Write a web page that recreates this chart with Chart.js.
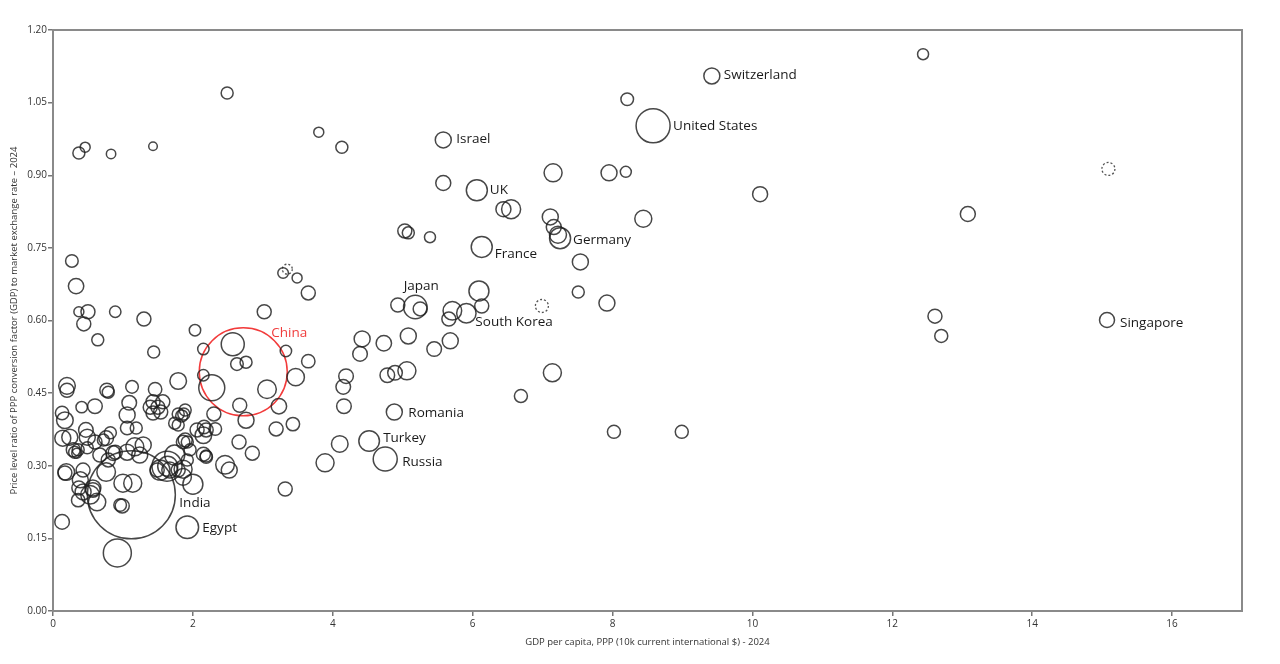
<!DOCTYPE html>
<html>
<head>
<meta charset="utf-8">
<script src="https://cdn.jsdelivr.net/npm/chart.js@4.4.1/dist/chart.umd.min.js"></script>
<style>
  html, body { margin: 0; padding: 0; background: #fff; }
  #wrap { width: 1280px; height: 664px; }
</style>
</head>
<body>
<div id="wrap"><canvas id="chart" width="1280" height="664"></canvas></div>
<script>
// Labelled countries come first in the main series
const names = ["Switzerland", "United States", "Israel", "UK", "France", "Germany", "Japan",
  "South Korea", "Romania", "Turkey", "Russia", "India", "Egypt", "Singapore"];

// GDP per capita, PPP (10k current intl $)
const gdp = [9.42, 8.58, 5.58, 6.06, 6.13, 7.25, 5.18, 5.91, 4.88, 4.52, 4.75, 1.12, 1.92, 15.07,
  12.44, 8.21, 10.11, 13.08, 12.61, 12.70, 8.02, 8.99, 7.14, 6.69, 7.51, 7.92, 7.54, 8.44, 8.19, 7.95,
  7.15, 5.58, 6.44, 6.55, 7.11, 7.16, 7.22, 5.39, 5.03, 5.08, 6.09, 6.13, 5.71, 5.66, 5.25, 4.93,
  5.08, 4.73, 4.42, 4.39, 5.45, 5.68, 4.19, 4.15, 4.16, 4.78, 4.89, 5.06, 4.10, 3.89, 3.32, 3.43,
  3.47, 3.65, 3.33, 3.65, 3.49, 3.29, 3.02, 3.80, 4.13, 2.49, 0.37, 0.46, 0.83, 1.43, 0.27, 0.33,
  0.37, 0.50, 0.44, 0.89, 1.30, 0.64, 1.44, 2.03, 2.15, 2.57, 2.63, 2.76, 2.27, 2.15, 2.67, 2.76,
  3.23, 3.19, 3.06, 2.30, 2.66, 2.85, 2.46, 2.52, 2.00, 0.92, 0.13, 0.99, 2.16, 1.86, 1.79, 2.06,
  2.15, 2.19, 1.89, 1.84, 1.79, 1.63, 1.49, 1.67, 1.79, 1.86, 1.92, 1.96, 1.89, 1.86, 1.43, 1.39,
  1.50, 1.57, 1.43, 1.54, 1.46, 1.13, 1.09, 1.06, 1.06, 1.19, 1.17, 1.29, 1.24, 1.00, 1.14, 0.77,
  0.79, 0.41, 0.60, 0.20, 0.20, 0.13, 0.17, 0.14, 0.24, 0.29, 0.31, 0.36, 0.34, 0.49, 0.49, 0.60,
  0.72, 0.82, 0.89, 0.67, 0.79, 0.76, 0.43, 0.17, 0.39, 0.43, 0.57, 0.37, 0.36, 0.57, 0.63, 0.53,
  0.96, 0.19, 0.47, 1.06, 0.86, 0.76, 2.32, 2.19, 2.15, 2.19, 1.92, 1.74, 1.79, 1.87, 1.74, 1.64, 1.53];

// Price level ratio of PPP conversion factor to market exchange rate
const ratio = [1.105, 1.002, 0.973, 0.869, 0.752, 0.770, 0.628, 0.615, 0.411, 0.351, 0.314, 0.240, 0.173, 0.601,
  1.150, 1.057, 0.861, 0.820, 0.609, 0.568, 0.370, 0.370, 0.492, 0.444, 0.659, 0.636, 0.721, 0.810, 0.907, 0.905,
  0.905, 0.884, 0.830, 0.830, 0.814, 0.793, 0.777, 0.772, 0.785, 0.781, 0.661, 0.630, 0.620, 0.603, 0.624, 0.632,
  0.568, 0.553, 0.562, 0.531, 0.541, 0.558, 0.485, 0.463, 0.423, 0.487, 0.492, 0.496, 0.345, 0.306, 0.252, 0.386,
  0.483, 0.516, 0.537, 0.657, 0.688, 0.698, 0.618, 0.989, 0.958, 1.070, 0.946, 0.958, 0.944, 0.960, 0.723, 0.671,
  0.618, 0.618, 0.593, 0.618, 0.603, 0.560, 0.535, 0.580, 0.541, 0.551, 0.510, 0.514, 0.461, 0.487, 0.425, 0.394,
  0.423, 0.376, 0.458, 0.407, 0.349, 0.326, 0.302, 0.291, 0.262, 0.120, 0.184, 0.217, 0.380, 0.349, 0.384, 0.374,
  0.324, 0.320, 0.415, 0.403, 0.475, 0.299, 0.291, 0.291, 0.291, 0.293, 0.312, 0.333, 0.353, 0.277, 0.432, 0.421,
  0.421, 0.432, 0.409, 0.411, 0.458, 0.463, 0.430, 0.405, 0.378, 0.378, 0.339, 0.343, 0.322, 0.264, 0.264, 0.456,
  0.452, 0.421, 0.423, 0.465, 0.456, 0.409, 0.394, 0.357, 0.359, 0.333, 0.328, 0.333, 0.326, 0.359, 0.337, 0.349,
  0.353, 0.368, 0.328, 0.322, 0.312, 0.287, 0.291, 0.285, 0.271, 0.246, 0.254, 0.254, 0.229, 0.250, 0.225, 0.240,
  0.219, 0.287, 0.374, 0.328, 0.326, 0.357, 0.376, 0.374, 0.363, 0.318, 0.349, 0.388, 0.407, 0.407, 0.322, 0.299, 0.291];

// Bubble magnitude (population weight)
const size = [8, 17, 8, 10.5, 10.5, 10.5, 11.7, 9.7, 8, 10.3, 12, 44, 11.3, 7.5,
  5.5, 6.3, 7.5, 7.5, 7, 6.5, 6.5, 6.5, 9, 6.5, 6, 8, 8, 8.5, 5.5, 8,
  9, 7.5, 7.5, 9.5, 8, 7.5, 8.5, 5.5, 7, 6, 10, 7, 9.3, 7, 7, 7,
  8, 7.7, 8, 7.3, 7.3, 8, 7.3, 7.3, 7.3, 7.3, 7.3, 9, 8.3, 9, 7, 6.7,
  8.7, 6.7, 5.7, 7, 5, 5.3, 7, 5, 6, 6, 6, 5, 4.7, 4.3, 6.3, 7.7,
  5, 7, 7, 5.7, 7, 6, 6, 5.7, 5.7, 11.5, 6.3, 6, 13, 5.7, 7, 8,
  7.7, 7, 9.3, 7, 7, 7, 9.3, 8, 10, 14, 7.3, 7, 6.7, 6.7, 6, 7,
  7, 6, 6, 6, 8.3, 15, 7, 8, 7, 9, 6, 6, 7, 8.3, 7, 7,
  7, 7, 7, 7, 6.7, 6.3, 7.3, 8, 6.7, 6, 9, 8, 8, 9, 9, 7,
  6, 5.7, 7.3, 8.3, 7, 6.7, 8.3, 8, 8, 7, 6, 6, 5, 8, 6, 7,
  6, 6, 7, 7, 7, 9.3, 7, 7, 8, 8, 8, 7, 6.7, 7.3, 8.7, 9.3,
  6.3, 8.3, 7.3, 8, 7.3, 7.3, 6.3, 7, 8.3, 6.3, 6, 6, 6, 6, 10, 10, 10];

// Countries drawn with a dashed outline
const dashedGdp = [15.09, 6.99, 3.35];
const dashedRatio = [0.913, 0.630, 0.706];
const dashedSize = [6.5, 6.5, 5];

// China, highlighted in red
const chinaGdp = [2.72];
const chinaRatio = [0.494];
const chinaSize = [44];

const xTicks = [0, 2, 4, 6, 8, 10, 12, 14, 16];
const yTicks = [0, 0.15, 0.30, 0.45, 0.60, 0.75, 0.90, 1.05, 1.20];

// label placement relative to the bubble centre: [dx, dy, align]
const labelOffset = {
  "Switzerland": [12, -1], "United States": [20, 0], "Israel": [13, -1], "UK": [13, 0],
  "France": [13, 7], "Germany": [13, 2], "Japan": [6, -21, "center"], "South Korea": [9, 9],
  "Romania": [14, 1], "Turkey": [14, -3], "Russia": [17, 3], "India": [48, 8],
  "Egypt": [15, 1], "Singapore": [13, 3]
};

const toPoints = (xs, ys, rs) => xs.map((x, i) => ({ x: x, y: ys[i], r: rs[i] }));

const frame = {
  id: "frame",
  beforeDatasetsDraw(chart) {
    const { ctx, chartArea: a } = chart;
    ctx.save();
    ctx.strokeStyle = "#8a8a8a";
    ctx.lineWidth = 2;
    ctx.strokeRect(a.left, a.top, a.right - a.left, a.bottom - a.top);
    ctx.restore();
  }
};

// point elements ignore borderDash, so switch the dash on around the dashed dataset
const dashedOutline = {
  id: "dashedOutline",
  beforeDatasetDraw(chart, args) {
    if (args.index === 1) chart.ctx.setLineDash([2, 2]);
  },
  afterDatasetDraw(chart, args) {
    if (args.index === 1) chart.ctx.setLineDash([]);
  }
};

const countryLabels = {
  id: "countryLabels",
  afterDatasetsDraw(chart) {
    const ctx = chart.ctx;
    const meta = chart.getDatasetMeta(0);
    ctx.save();
    ctx.font = '13.5px "Open Sans"';
    ctx.textBaseline = "middle";
    ctx.fillStyle = "#1a1a1a";
    names.forEach((n, i) => {
      const pt = meta.data[i];
      const o = labelOffset[n];
      ctx.textAlign = o[2] || "left";
      ctx.fillText(n, pt.x + o[0], pt.y + o[1]);
    });
    const c = chart.getDatasetMeta(2).data[0];
    ctx.textAlign = "left";
    ctx.fillStyle = "#f03c3c";
    ctx.fillText("China", c.x + 28, c.y - 39);
    ctx.restore();
  }
};

const tickFont = { family: "Open Sans", size: 10 };

new Chart(document.getElementById("chart"), {
  type: "bubble",
  data: {
    datasets: [
      {
        data: toPoints(gdp, ratio, size),
        backgroundColor: "rgba(0,0,0,0)",
        borderColor: "rgba(30,30,30,0.82)",
        borderWidth: 1.5
      },
      {
        data: toPoints(dashedGdp, dashedRatio, dashedSize),
        backgroundColor: "rgba(0,0,0,0)",
        borderColor: "rgba(50,50,50,0.85)",
        borderWidth: 1.3
      },
      {
        data: toPoints(chinaGdp, chinaRatio, chinaSize),
        backgroundColor: "rgba(0,0,0,0)",
        borderColor: "#f23b3b",
        borderWidth: 1.5
      }
    ]
  },
  options: {
    responsive: false,
    animation: false,
    devicePixelRatio: 1,
    events: [],
    layout: { autoPadding: false, padding: { top: 30, right: 38, left: 0, bottom: 0 } },
    plugins: { legend: { display: false }, tooltip: { enabled: false } },
    elements: { point: { hoverRadius: 0 } },
    scales: {
      x: {
        type: "linear",
        min: 0,
        max: 17,
        afterBuildTicks: (s) => { s.ticks = xTicks.map(v => ({ value: v })); },
        afterFit: (s) => { s.height = 53; },
        ticks: { font: tickFont, color: "#333", padding: 2, maxRotation: 0, callback: v => v },
        grid: { drawOnChartArea: false, drawTicks: true, tickLength: 5, color: "#777", lineWidth: 1.5 },
        border: { display: false },
        title: {
          display: true,
          text: "GDP per capita, PPP (10k current international $) - 2024",
          font: { family: "Open Sans", size: 9.5 },
          color: "#333",
          padding: { top: 0, bottom: 16 }
        }
      },
      y: {
        type: "linear",
        min: 0,
        max: 1.2,
        afterBuildTicks: (s) => { s.ticks = yTicks.map(v => ({ value: v })); },
        afterFit: (s) => { s.width = 53; },
        ticks: { font: tickFont, color: "#333", padding: 1, callback: v => Number(v).toFixed(2) },
        grid: { drawOnChartArea: false, drawTicks: true, tickLength: 5, color: "#777", lineWidth: 1.5 },
        border: { display: false },
        title: {
          display: true,
          text: "Price level ratio of PPP conversion factor (GDP) to market exchange rate – 2024",
          font: { family: "Open Sans", size: 9.5 },
          color: "#333",
          padding: { top: 9, bottom: 0 }
        }
      }
    }
  },
  plugins: [frame, dashedOutline, countryLabels]
});
</script>
</body>
</html>
